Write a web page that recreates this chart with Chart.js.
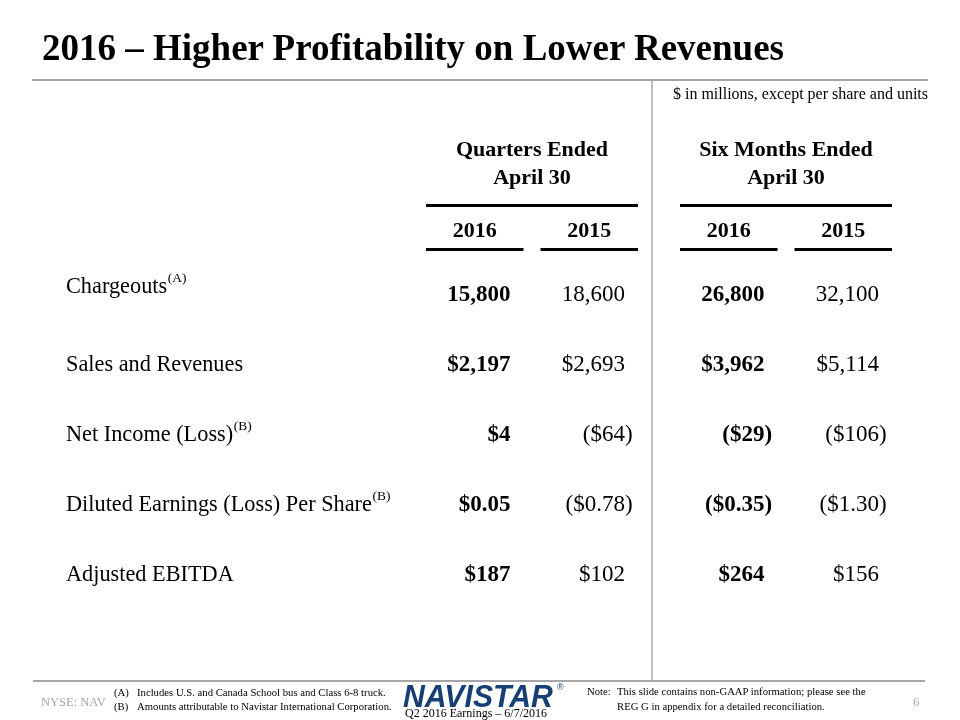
<!DOCTYPE html>
<html>
<head>
<meta charset="utf-8">
<script src="https://cdn.jsdelivr.net/npm/chart.js"></script>
<style>
  html, body { margin:0; padding:0; background:#fff; }
  #slide { position:relative; width:960px; height:720px; overflow:hidden; font-family:"Liberation Serif", "Times New Roman", serif; color:#000; }
  #c { position:absolute; left:0; top:0; }
  .t { position:absolute; white-space:nowrap; line-height:1; }
  .fn { font-size:10.7px; }
  .rule { position:absolute; background:#a6a6a6; }
</style>
</head>
<body>
<div id="slide">
  <canvas id="c" width="960" height="720"></canvas>

  <div class="t" style="left:42px;top:29px;font-size:37px;font-weight:bold">2016 – Higher Profitability on Lower Revenues</div>
  <div class="rule" style="left:32px;top:79px;width:896px;height:2px"></div>
  <div class="rule" style="left:651px;top:81px;width:1.5px;height:600px;background:#bfbfbf"></div>
  <div class="t" style="right:32px;top:85.6px;font-size:16px">$ in millions, except per share and units</div>

  <!-- footer -->
  <div class="rule" style="left:33px;top:680px;width:892px;height:1.5px"></div>
  <div class="t" style="left:41px;top:695.5px;font-size:12.5px;color:#a6a6a6">NYSE: NAV</div>
  <div class="t fn" style="left:114px;top:687px">(A)</div>
  <div class="t fn" style="left:137px;top:687px">Includes U.S. and Canada School bus and Class 6-8 truck.</div>
  <div class="t fn" style="left:114px;top:701px">(B)</div>
  <div class="t fn" style="left:137px;top:701px">Amounts attributable to Navistar International Corporation.</div>
  <div class="t" id="logo" style="left:403px;top:680.8px;font-family:'Liberation Sans', Arial, sans-serif;font-size:31px;font-weight:bold;font-style:italic;color:#173f74;transform-origin:0 0">NAVISTAR</div>
  <div class="t" style="left:557px;top:683px;font-family:'Liberation Sans', Arial, sans-serif;font-size:9px;color:#173f74">®</div>
  <div class="t" style="left:405px;top:707px;font-size:12px">Q2 2016 Earnings – 6/7/2016</div>
  <div class="t fn" style="left:587px;top:686px">Note:</div>
  <div class="t fn" style="left:617px;top:686px">This slide contains non-GAAP information; please see the</div>
  <div class="t fn" style="left:617px;top:701px">REG G in appendix for a detailed reconciliation.</div>
  <div class="t" style="left:913px;top:695px;font-size:13px;color:#a6a6a6">6</div>
</div>

<script>
// table contents
const rowLabels = ['Chargeouts', 'Sales and Revenues', 'Net Income (Loss)', 'Diluted Earnings (Loss) Per Share', 'Adjusted EBITDA'];
const rowNotes = ['(A)', '', '(B)', '(B)', ''];
const rowFormats = ['units', 'usd', 'usd', 'eps', 'usd'];
const periods = [['Quarters Ended', 'April 30'], ['Six Months Ended', 'April 30']];
const years = ['2016', '2015'];

const quarter2016 = [15800, 2197, 4, 0.05, 187];
const quarter2015 = [18600, 2693, -64, -0.78, 102];
const sixMonths2016 = [26800, 3962, -29, -0.35, 264];
const sixMonths2015 = [32100, 5114, -106, -1.30, 156];

const SERIF = '"Liberation Serif", "Times New Roman", serif';
const COL_GAP = 17;      // gap between the two year underlines of a group
const VALUE_INSET = 13;  // numbers right-aligned this far inside their underline
const LABEL_X = 66;

function formatValue(v, kind){
  const a = Math.abs(v);
  let s;
  if(kind === 'units') s = a.toLocaleString('en-US');
  else if(kind === 'eps') s = '$' + a.toFixed(2);
  else s = '$' + a.toLocaleString('en-US');
  return v < 0 ? '(' + s + ')' : s;
}

const tablePlugin = {
  id: 'tableText',
  afterDatasetsDraw(chart){
    const ctx = chart.ctx;
    const rows = chart.scales.rows;
    const metas = chart.data.datasets.map((d, i) => chart.getDatasetMeta(i));
    ctx.save();
    ctx.fillStyle = '#000';
    ctx.textBaseline = 'alphabetic';

    // group headers + group underline
    periods.forEach((p, g) => {
      const b0 = metas[0].data[g], b1 = metas[1].data[g];
      const left = b0.x - b0.width/2, right = b1.x + b1.width/2;
      const cx = (left + right) / 2;
      ctx.font = 'bold 22px ' + SERIF;
      ctx.textAlign = 'center';
      ctx.fillText(p[0], cx, 156);
      ctx.fillText(p[1], cx, 184);
      ctx.fillRect(left, 204, right - left, 3);
    });

    // year columns
    metas.forEach((meta, d) => {
      const ds = chart.data.datasets[d];
      meta.data.forEach((bar, g) => {
        let left = bar.x - bar.width/2, right = bar.x + bar.width/2;
        if(d === 0) right -= COL_GAP/2; else left += COL_GAP/2;
        ctx.font = 'bold 22px ' + SERIF;
        ctx.textAlign = 'center';
        ctx.fillText(ds.label, (left + right)/2, 237);
        ctx.fillRect(left, 248, right - left, 3);

        ctx.font = (ds.boldValues ? 'bold ' : '') + '23px ' + SERIF;
        ctx.textAlign = 'right';
        ds.values[g].forEach((v, r) => {
          const txt = formatValue(v, rowFormats[r]);
          const hang = txt.endsWith(')') ? ctx.measureText(')').width : 0;
          ctx.fillText(txt, right - VALUE_INSET + hang, rows.getPixelForValue(r) + 8);
        });
      });
    });

    // row labels with superscript notes
    ctx.textAlign = 'left';
    rowLabels.forEach((lab, r) => {
      const y = rows.getPixelForValue(r) + 8 - (r === 0 ? 8 : 0);
      ctx.font = '22.3px ' + SERIF;
      ctx.fillText(lab, LABEL_X, y);
      if(rowNotes[r]){
        const w = ctx.measureText(lab).width;
        ctx.font = '13.5px ' + SERIF;
        ctx.fillText(rowNotes[r], LABEL_X + w + 0.5, y - 11);
      }
    });
    ctx.restore();
  }
};

function draw(){
  // fit the logo word to its width
  const logo = document.getElementById('logo');
  logo.style.transform = 'scaleX(' + (150 / logo.offsetWidth) + ')';

  new Chart(document.getElementById('c'), {
    type: 'bar',
    data: {
      labels: periods,
      datasets: [
        { label: years[0], data: [1, 1], values: [quarter2016, sixMonths2016], boldValues: true, backgroundColor: 'rgba(0,0,0,0)' },
        { label: years[1], data: [1, 1], values: [quarter2015, sixMonths2015], boldValues: false, backgroundColor: 'rgba(0,0,0,0)' }
      ]
    },
    options: {
      responsive: false,
      animation: false,
      events: [],
      categoryPercentage: 212 / 254,
      barPercentage: 1,
      layout: { padding: { left: 405, right: 47, top: 258, bottom: 112 } },
      scales: {
        x: { display: false },
        y: { display: false, min: 0, max: 1 },
        rows: { type: 'category', axis: 'y', labels: rowLabels, offset: true, display: false }
      },
      plugins: { legend: { display: false }, tooltip: { enabled: false } }
    },
    plugins: [tablePlugin]
  });
}

Promise.all([
  document.fonts.load('22px "Liberation Serif"'),
  document.fonts.load('bold 22px "Liberation Serif"')
]).then(draw, draw);
</script>
</body>
</html>
